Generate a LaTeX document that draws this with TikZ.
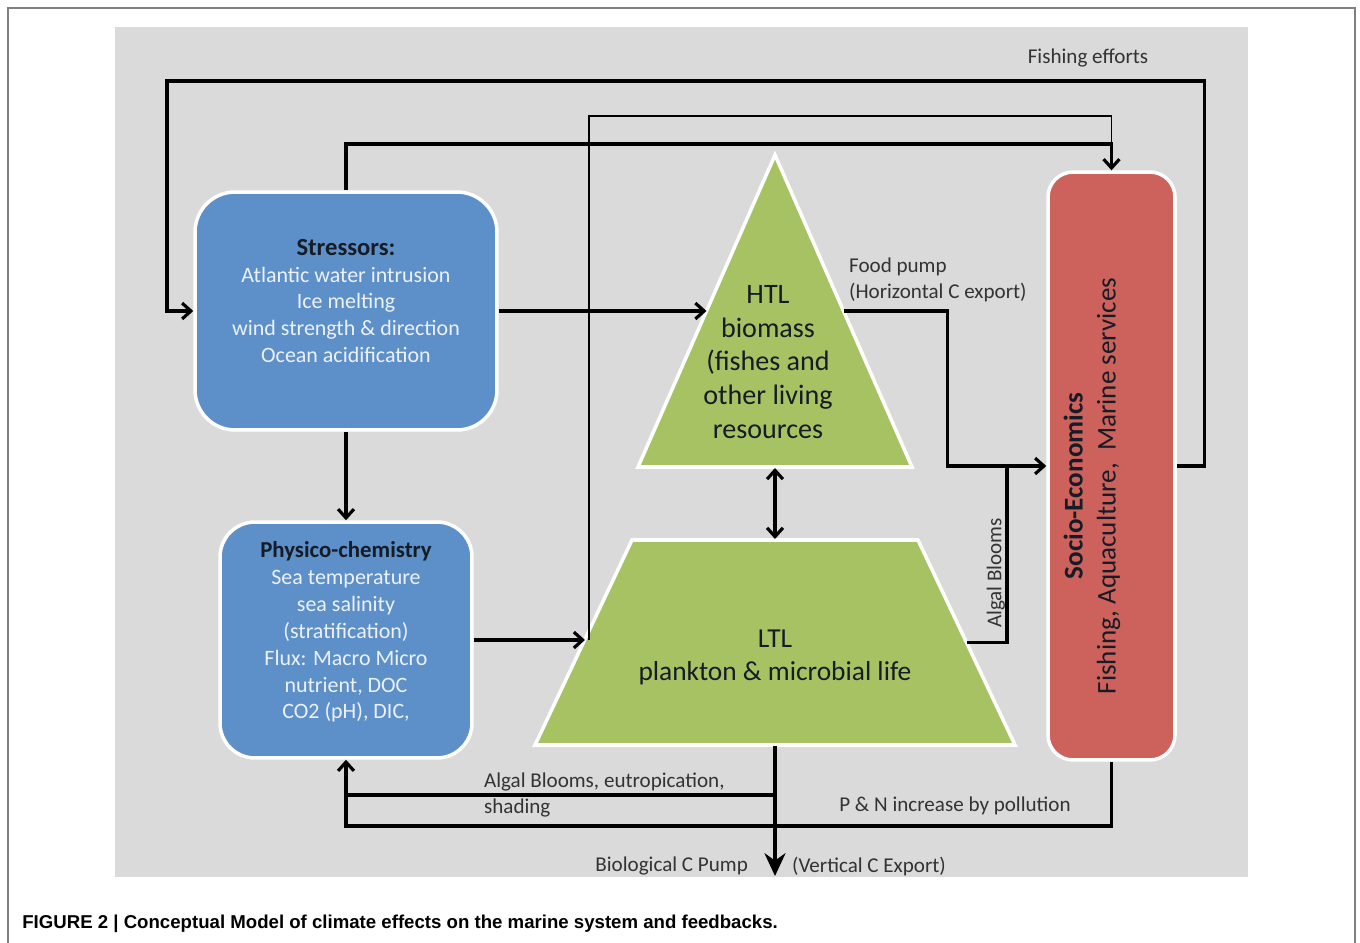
\documentclass[tikz,border=0pt]{standalone}
\usepackage{fontspec}
\setmainfont{Carlito}
\newfontfamily\captionfont{Liberation Sans}
\usetikzlibrary{positioning,arrows.meta}
\definecolor{bggray}{RGB}{218,218,218}
\definecolor{boxblue}{RGB}{93,144,200}
\definecolor{pyrgreen}{RGB}{167,194,99}
\definecolor{boxred}{RGB}{205,97,92}
\definecolor{labelgray}{RGB}{51,51,51}
\definecolor{paletext}{RGB}{236,241,249}
\definecolor{titledark}{RGB}{22,28,38}
\newcommand{\boxtitle}[2]{{\color{titledark}\bfseries\fontsize{#1}{#1}\selectfont #2}}

\begin{document}
\begin{tikzpicture}[x=0.02cm,y=-0.02cm,
  box/.style={draw=white,line width=2pt,inner sep=0pt},
  pyramid/.style={draw=white,line width=2pt,fill=pyrgreen,line join=miter},
  boxtext/.style={align=center,text=paletext,font=\fontsize{12.5}{15.3}\selectfont},
  pyrtext/.style={align=center,text=titledark},
  lbl/.style={text=labelgray,font=\fontsize{12}{14.6}\selectfont,inner sep=1pt},
  tip/.tip={Straight Barb[length=5pt,width=9pt]},
  flow/.style={line width=1.8pt,-tip},
  link/.style={line width=1.8pt},
  thinlink/.style={line width=1pt}]

  \useasboundingbox (0,0) rectangle (1360,943);
  % frame and panel
  \draw[gray,line width=0.8pt] (8,943) -- (8,8) -- (1355,8) -- (1355,943);
  \fill[bggray] (115,27) rectangle (1248,877);

  % boxes
  \node[box,fill=boxblue,minimum width=6.04cm,minimum height=4.76cm,
    rounded corners=0.8cm] (stressors) at (346,311) {};
  \node[boxtext] (stressorstext) at (346,301) {\boxtitle{14}{Stressors:}\\
    Atlantic water intrusion\\Ice melting\\wind strength \& direction\\Ocean acidification};

  \node[box,fill=boxblue,minimum width=5.04cm,minimum height=4.72cm,
    rounded corners=0.7cm] (physico) at (346,640) {};
  \node[boxtext] (physicotext) at (346,632) {\boxtitle{13}{Physico-chemistry}\\
    Sea temperature\\sea salinity\\(stratification)\\Flux: Macro Micro\\nutrient, DOC\\CO2 (pH), DIC,};

  % HTL triangle
  \coordinate (htl-apex) at (775,155);
  \coordinate (htl-bl) at (638,467);
  \coordinate (htl-br) at (912,467);
  \coordinate (htl-w) at (706.5,311);
  \coordinate (htl-e) at (843.5,311);
  \coordinate (htl-s) at (775,468);
  \filldraw[pyramid] (htl-apex) -- (htl-br) -- (htl-bl) -- cycle;
  \node[pyrtext,font=\fontsize{16}{19.3}\selectfont] (htl) at (768,362)
    {HTL\\biomass\\(fishes and\\other living\\resources};

  % LTL trapezium
  \coordinate (ltl-n) at (775,539);
  \coordinate (ltl-s) at (775,746);
  \coordinate (ltl-w) at (585,640);
  \coordinate (ltl-e) at (966.5,642.5);
  \filldraw[pyramid] (632,540) -- (918,540) -- (1015,745) -- (535,745) -- cycle;
  \node[pyrtext,font=\fontsize{15.6}{18.7}\selectfont] (ltl) at (775,657)
    {LTL\\plankton \& microbial life};

  \node[box,fill=boxred,minimum width=2.54cm,minimum height=11.76cm,
    rounded corners=0.5cm] (socio) at (1111.5,466) {};
  \node[pyrtext,rotate=90,font=\fontsize{15.4}{18.7}\selectfont] (sociotext) at (1092,486)
    {\textbf{Socio-Economics}\\Fishing, Aquaculture,~ Marine services};

  % connectors
  \draw[flow] (stressors.east) -- (htl-w);
  \draw[flow] (stressors.south) -- (physico.north);
  \draw[tip-tip,line width=1.8pt] (htl-s) -- (ltl-n);

  \draw[flow] (physico.east) -- (physico.east -| ltl-w);
  \draw[thinlink] (physico.east -| 589,0) |- (socio.north |- 0,116)
    -- (socio.north |- 0,144);
  \draw[flow] (stressors.north) |- (socio.north |- 0,144) -- (socio.north);

  \draw[flow] (socio.east) -- ++(28,0) |- (167,81) |- (stressors.west);
  \node[lbl] (fishlbl) at (1088,58) {Fishing efforts};

  \draw[flow] (htl-e) -- ++(104,0) |- (socio.west);
  \node[lbl,align=left] (foodlbl) [above right=4pt and 2pt of htl-e]
    {Food pump\\(Horizontal C export)};

  \draw[link] (ltl-e) -| (socio.west -| 1007,0);
  \node[lbl,rotate=90,anchor=south] (algallbl) at (1007,573) {Algal Blooms};

  \draw[line width=1.8pt,-{Stealth[length=13pt,width=12pt]}] (ltl-s) -- ++(0,130);
  \node[lbl,anchor=east] (biolbl) at (750,866) {Biological C Pump};
  \node[lbl,anchor=west] (vertlbl) at (790,866) {(Vertical C Export)};

  \draw[link] (ltl-s |- 0,795) -- (physico.south |- 0,795);
  \draw[flow] (socio.south) |- (physico.south |- 0,826) -- (physico.south);
  \node[lbl,align=left,anchor=west] (eutrolbl) at (482,795)
    {Algal Blooms, eutropication,\\shading};
  \node[lbl] (pnlbl) at (955,806) {P \& N increase by pollution};

  % caption
  \node[anchor=west,inner sep=0pt,font=\captionfont\bfseries\fontsize{10.6}{12}\selectfont]
    (caption) at (22,924)
    {FIGURE 2 | Conceptual Model of climate effects on the marine system and feedbacks.};
\end{tikzpicture}
\end{document}
